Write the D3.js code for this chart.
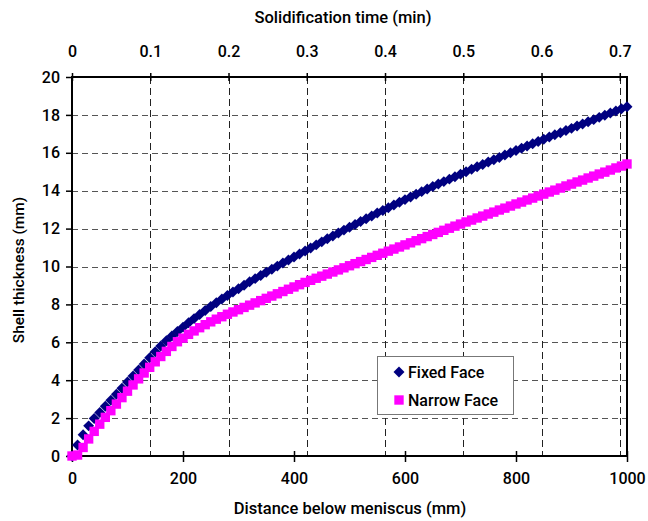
<!DOCTYPE html>
<html>
<head>
<meta charset="utf-8">
<script src="https://cdn.jsdelivr.net/npm/d3@7/dist/d3.min.js"></script>
<style>
  html, body { margin: 0; padding: 0; background: #fff; }
  svg { display: block; }
  text { font-family: Roboto, "Liberation Sans", sans-serif; font-weight: 500; fill: #000; }
</style>
</head>
<body>
<svg id="chart" width="648" height="521"></svg>
<script>
// Distance below meniscus (mm), sampled every 10 mm
const distance = d3.range(0, 1001, 10);

// Shell thickness (mm) on the fixed face
const fixedFace = [
  0.00, 0.58, 1.12, 1.59, 1.98, 2.30, 2.62, 2.94, 3.26, 3.58,
  3.90, 4.22, 4.54, 4.86, 5.18, 5.50, 5.80, 6.08, 6.33, 6.57,
  6.80, 7.03, 7.25, 7.47, 7.68, 7.89, 8.09, 8.28, 8.47, 8.65,
  8.83, 9.01, 9.19, 9.36, 9.53, 9.70, 9.86, 10.02, 10.18, 10.34,
  10.50, 10.66, 10.82, 10.98, 11.14, 11.30, 11.46, 11.61, 11.77, 11.92,
  12.07, 12.22, 12.37, 12.52, 12.67, 12.82, 12.96, 13.10, 13.25, 13.39,
  13.53, 13.67, 13.81, 13.95, 14.09, 14.22, 14.35, 14.48, 14.61, 14.74,
  14.87, 15.00, 15.13, 15.26, 15.38, 15.51, 15.63, 15.75, 15.88, 16.00,
  16.12, 16.24, 16.36, 16.48, 16.60, 16.72, 16.83, 16.95, 17.06, 17.18,
  17.29, 17.41, 17.52, 17.64, 17.75, 17.87, 17.98, 18.10, 18.21, 18.32,
  18.43
];

// Shell thickness (mm) on the narrow face
const narrowFace = [
  0.00, 0.05, 0.45, 0.90, 1.30, 1.68, 2.04, 2.39, 2.74, 3.08,
  3.42, 3.75, 4.07, 4.38, 4.68, 4.97, 5.25, 5.52, 5.78, 6.03,
  6.22, 6.42, 6.60, 6.77, 6.93, 7.08, 7.22, 7.35, 7.48, 7.60,
  7.72, 7.84, 7.96, 8.08, 8.20, 8.32, 8.44, 8.56, 8.68, 8.80,
  8.92, 9.04, 9.16, 9.27, 9.38, 9.49, 9.60, 9.71, 9.82, 9.93,
  10.04, 10.15, 10.26, 10.37, 10.48, 10.59, 10.70, 10.81, 10.92, 11.03,
  11.14, 11.25, 11.36, 11.47, 11.58, 11.69, 11.80, 11.91, 12.02, 12.13,
  12.24, 12.35, 12.45, 12.56, 12.66, 12.77, 12.87, 12.98, 13.08, 13.19,
  13.30, 13.40, 13.51, 13.61, 13.72, 13.82, 13.93, 14.03, 14.14, 14.25,
  14.35, 14.46, 14.56, 14.67, 14.77, 14.88, 14.98, 15.09, 15.20, 15.30,
  15.41
];

const seriesNames = ["Fixed Face", "Narrow Face"];
const distanceTicks = [0, 200, 400, 600, 800, 1000];
const timeTicks = [0, 0.1, 0.2, 0.3, 0.4, 0.5, 0.6, 0.7];
const thicknessTicks = [0, 2, 4, 6, 8, 10, 12, 14, 16, 18, 20];
const castingSpeed = 1410; // mm/min, links the distance and time axes

const svg = d3.select("#chart");
const m = { left: 72, right: 627, top: 77, bottom: 456 };

const x = d3.scaleLinear().domain([0, 1000]).range([m.left, m.right]);
const xTime = d3.scaleLinear().domain([0, 1000 / castingSpeed]).range([m.left, m.right]);
const y = d3.scaleLinear().domain([0, 20]).range([m.bottom, m.top]);

// Horizontal gridlines
svg.append("g").selectAll("line")
  .data(thicknessTicks.filter(t => t > 0 && t < 20))
  .join("line")
  .attr("x1", m.left).attr("x2", m.right)
  .attr("y1", d => Math.round(y(d)) + 0.5).attr("y2", d => Math.round(y(d)) + 0.5)
  .attr("stroke", "#555").attr("stroke-width", 1)
  .attr("stroke-dasharray", "6,4");

// Vertical gridlines follow the time axis
svg.append("g").selectAll("line")
  .data(timeTicks.filter(t => t > 0))
  .join("line")
  .attr("x1", d => Math.round(xTime(d)) + 0.5).attr("x2", d => Math.round(xTime(d)) + 0.5)
  .attr("y1", m.top).attr("y2", m.bottom)
  .attr("stroke", "#222").attr("stroke-width", 1)
  .attr("stroke-dasharray", "7,4");

// Plot frame
svg.append("rect")
  .attr("x", m.left).attr("y", m.top)
  .attr("width", m.right - m.left).attr("height", m.bottom - m.top)
  .attr("fill", "none").attr("stroke", "#000").attr("stroke-width", 2);

// Left axis
const yAxis = svg.append("g")
  .attr("transform", `translate(${m.left},0)`)
  .call(d3.axisLeft(y).tickValues(thicknessTicks).tickSize(6).tickPadding(6).tickFormat(d3.format("d")));
yAxis.select(".domain").remove();
yAxis.selectAll(".tick line").attr("stroke", "#000").attr("stroke-width", 1.5);
yAxis.selectAll(".tick text").style("font-size", "16px");

// Bottom axis, ticks cross the frame
const xAxis = svg.append("g")
  .attr("transform", `translate(0,${m.bottom})`)
  .call(d3.axisBottom(x).tickValues(distanceTicks).tickSizeInner(6).tickSizeOuter(0).tickPadding(11).tickFormat(d3.format("d")));
xAxis.select(".domain").remove();
xAxis.selectAll(".tick line").attr("y1", -5).attr("stroke", "#000").attr("stroke-width", 1.5);
xAxis.selectAll(".tick text").style("font-size", "16px");

// Top axis in solidification time
const tAxis = svg.append("g")
  .attr("transform", `translate(0,${m.top})`)
  .call(d3.axisTop(xTime).tickValues(timeTicks).tickSizeInner(4).tickSizeOuter(0).tickPadding(16)
    .tickFormat(d => d === 0 ? "0" : d3.format(".1f")(d)));
tAxis.select(".domain").remove();
tAxis.selectAll(".tick line").attr("y1", 4).attr("stroke", "#000").attr("stroke-width", 1.5);
tAxis.selectAll(".tick text").style("font-size", "16px");

// Axis titles
svg.append("text").attr("x", 343).attr("y", 23).attr("text-anchor", "middle")
  .style("font-size", "16.5px").text("Solidification time (min)");
svg.append("text").attr("x", 350).attr("y", 514).attr("text-anchor", "middle")
  .style("font-size", "16.5px").text("Distance below meniscus (mm)");
svg.append("text").attr("transform", "translate(24,270) rotate(-90)").attr("text-anchor", "middle")
  .style("font-size", "15.5px").text("Shell thickness (mm)");

// Markers: diamonds are squares turned by 45 degrees
const diamond = d3.symbol().type(d3.symbolSquare).size(60);
const square = d3.symbol().type(d3.symbolSquare).size(88);

const fixedPts = distance.map((d, i) => [d, fixedFace[i]]);
const narrowPts = distance.map((d, i) => [d, narrowFace[i]]);

svg.append("g").selectAll("path")
  .data(fixedPts).join("path")
  .attr("d", diamond)
  .attr("transform", d => `translate(${x(d[0])},${y(d[1])}) rotate(45)`)
  .attr("fill", "#000080");

svg.append("g").selectAll("path")
  .data(narrowPts).join("path")
  .attr("d", square)
  .attr("transform", d => `translate(${x(d[0])},${y(d[1])})`)
  .attr("fill", "#FF00FF");

// Legend
const lg = svg.append("g").attr("transform", "translate(377,356)");
lg.append("rect").attr("x", 0.5).attr("y", 0.5).attr("width", 136).attr("height", 58)
  .attr("fill", "#fff").attr("stroke", "#777").attr("stroke-width", 1);
lg.append("path").attr("d", diamond).attr("transform", "translate(22,16) rotate(45)").attr("fill", "#000080");
lg.append("text").attr("x", 31).attr("y", 21.5).style("font-size", "16px").text(seriesNames[0]);
lg.append("path").attr("d", square).attr("transform", "translate(22,44)").attr("fill", "#FF00FF");
lg.append("text").attr("x", 31).attr("y", 49.5).style("font-size", "16px").text(seriesNames[1]);
</script>
</body>
</html>
